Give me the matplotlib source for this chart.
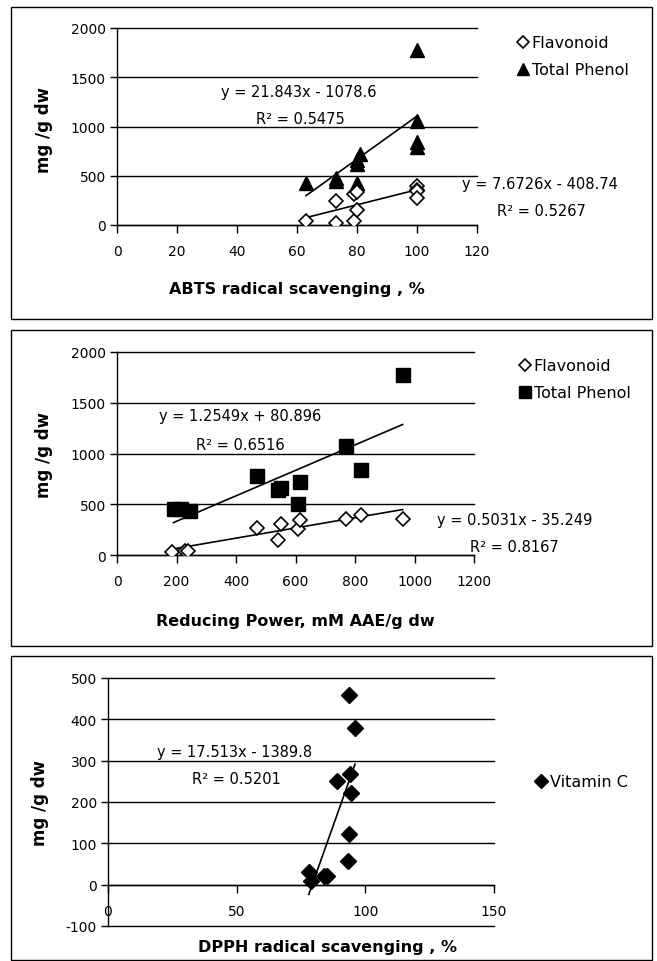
import matplotlib
matplotlib.use('Agg')
import matplotlib.pyplot as plt
from matplotlib.patches import Rectangle
from matplotlib.lines import Line2D
import numpy as np

plt.rcParams['font.family'] = ['DejaVu Sans']
plt.rcParams['axes.unicode_minus'] = False

# ---------------- data ----------------
# Panel 1: ABTS radical scavenging
abts_flav_x = [63, 73, 73, 79, 79, 80, 80, 100, 100, 100, 100]
abts_flav_y = [40, 25, 245, 310, 45, 330, 150, 400, 360, 350, 270]
abts_phen_x = [63, 73, 73, 80, 80, 80, 81, 100, 100, 100, 100]
abts_phen_y = [430, 450, 480, 430, 620, 660, 720, 1780, 1060, 840, 790]
abts_flav_fit = [7.6726, -408.74]
abts_phen_fit = [21.843, -1078.6]
abts_flav_eq = ["y = 7.6726x - 408.74", "R² = 0.5267"]
abts_phen_eq = ["y = 21.843x - 1078.6", "R² = 0.5475"]

# Panel 2: Reducing power
rp_flav_x = [185, 230, 240, 470, 540, 550, 610, 615, 770, 820, 960]
rp_flav_y = [25, 40, 40, 270, 150, 310, 260, 340, 350, 390, 350]
rp_phen_x = [190, 215, 245, 470, 540, 550, 610, 615, 770, 820, 960]
rp_phen_y = [450, 450, 430, 780, 640, 660, 500, 720, 1070, 840, 1770]
rp_flav_fit = [0.5031, -35.249]
rp_phen_fit = [1.2549, 80.896]
rp_flav_eq = ["y = 0.5031x - 35.249", "R² = 0.8167"]
rp_phen_eq = ["y = 1.2549x + 80.896", "R² = 0.6516"]

# Panel 3: DPPH radical scavenging
dpph_x = [78, 79, 84, 85, 89, 93.5, 96, 94, 94.5, 93.5, 93.2]
dpph_y = [30, 8, 22, 22, 252, 458, 378, 268, 222, 122, 58]
dpph_fit = [17.513, -1389.8]
dpph_eq = ["y = 17.513x - 1389.8", "R² = 0.5201"]

W, H = 657, 962
fig = plt.figure(figsize=(W / 100, H / 100), dpi=100)

EQ_FS = 10.5
TICK_FS = 10
LAB_FS = 11.5
YLAB_FS = 12
LEG_FS = 11.5


def fx(px):
    return px / W


def fy(py):
    return 1 - py / H


def box(top, bottom, left=11, right=652):
    fig.patches.append(Rectangle((fx(left), fy(bottom)), fx(right - left), (bottom - top) / H,
                                 transform=fig.transFigure, fill=False, edgecolor='black',
                                 linewidth=1.0))


def make_axes(left, right, top, bottom, xlim, ylim, xticks, yticks):
    ax = fig.add_axes([fx(left), fy(bottom), fx(right - left), (bottom - top) / H])
    ax.set_xlim(*xlim)
    ax.set_ylim(*ylim)
    ax.set_xticks(xticks)
    ax.set_yticks(yticks)
    for s in ['top', 'right']:
        ax.spines[s].set_visible(False)
    ax.spines['bottom'].set_position(('data', 0))
    ax.spines['left'].set_position(('data', 0))
    ax.spines['left'].set_linewidth(1.0)
    ax.spines['bottom'].set_linewidth(1.0)
    for y in yticks:
        ax.axhline(y, color='black', linewidth=1.0, zorder=1, clip_on=False)
    ax.tick_params(axis='x', direction='out', length=6, width=1, pad=8, labelsize=TICK_FS)
    ax.tick_params(axis='y', direction='out', length=5, width=1, pad=3, labelsize=TICK_FS)
    ax.patch.set_alpha(0)
    return ax


def trend(ax, xs, fit):
    xx = np.array([min(xs), max(xs)])
    ax.plot(xx, fit[0] * xx + fit[1], color='black', linewidth=1.2, zorder=2, clip_on=False)


# ---------------- Panel 1 ----------------
box(8, 320)
ax1 = make_axes(117, 477, 29, 226, (0, 120), (0, 2000), range(0, 121, 20), range(0, 2001, 500))
ax1.plot(abts_phen_x, abts_phen_y, linestyle='none', marker='^', markersize=9.5,
         color='black', zorder=3, label='Total Phenol')
ax1.plot(abts_flav_x, abts_flav_y, linestyle='none', marker='D', markersize=7,
         markerfacecolor='white', markeredgecolor='black', markeredgewidth=1.2, zorder=4,
         label='Flavonoid')
trend(ax1, abts_phen_x, abts_phen_fit)
trend(ax1, abts_flav_x, abts_flav_fit)
fig.text(fx(299), fy(92), abts_phen_eq[0], ha='center', va='center', fontsize=EQ_FS)
fig.text(fx(300), fy(119), abts_phen_eq[1], ha='center', va='center', fontsize=EQ_FS)
fig.text(fx(540), fy(184), abts_flav_eq[0], ha='center', va='center', fontsize=EQ_FS)
fig.text(fx(541), fy(212), abts_flav_eq[1], ha='center', va='center', fontsize=EQ_FS)
fig.text(fx(297), fy(290), "ABTS radical scavenging , %", ha='center', va='center',
         fontsize=LAB_FS, fontweight='bold')
fig.text(fx(44), fy(130), "mg /g dw", ha='center', va='center', rotation=90,
         fontsize=YLAB_FS, fontweight='bold')
h1 = [Line2D([], [], linestyle='none', marker='D', markersize=6, markerfacecolor='white',
             markeredgecolor='black', markeredgewidth=1.2),
      Line2D([], [], linestyle='none', marker='^', markersize=8, color='black')]
fig.legend(h1, ['Flavonoid', 'Total Phenol'], loc='upper left',
           bbox_to_anchor=(fx(510), fy(30)), frameon=False, fontsize=LEG_FS,
           handlelength=0.8, handletextpad=0.15, labelspacing=0.75, borderaxespad=0)

# ---------------- Panel 2 ----------------
box(331, 647)
ax2 = make_axes(117, 474, 353, 556, (0, 1200), (0, 2000), range(0, 1201, 200), range(0, 2001, 500))
ax2.plot(rp_phen_x, rp_phen_y, linestyle='none', marker='s', markersize=10.5,
         color='black', zorder=3, label='Total Phenol')
ax2.plot(rp_flav_x, rp_flav_y, linestyle='none', marker='D', markersize=7,
         markerfacecolor='white', markeredgecolor='black', markeredgewidth=1.2, zorder=4,
         label='Flavonoid')
trend(ax2, rp_phen_x, rp_phen_fit)
trend(ax2, rp_flav_x, rp_flav_fit)
fig.text(fx(240), fy(417), rp_phen_eq[0], ha='center', va='center', fontsize=EQ_FS)
fig.text(fx(240), fy(446), rp_phen_eq[1], ha='center', va='center', fontsize=EQ_FS)
fig.text(fx(515), fy(520), rp_flav_eq[0], ha='center', va='center', fontsize=EQ_FS)
fig.text(fx(514), fy(548), rp_flav_eq[1], ha='center', va='center', fontsize=EQ_FS)
fig.text(fx(295), fy(622), "Reducing Power, mM AAE/g dw", ha='center', va='center',
         fontsize=LAB_FS, fontweight='bold')
fig.text(fx(44), fy(455), "mg /g dw", ha='center', va='center', rotation=90,
         fontsize=YLAB_FS, fontweight='bold')
h2 = [Line2D([], [], linestyle='none', marker='D', markersize=6, markerfacecolor='white',
             markeredgecolor='black', markeredgewidth=1.2),
      Line2D([], [], linestyle='none', marker='s', markersize=8, color='black')]
fig.legend(h2, ['Flavonoid', 'Total Phenol'], loc='upper left',
           bbox_to_anchor=(fx(512), fy(353)), frameon=False, fontsize=LEG_FS,
           handlelength=0.8, handletextpad=0.15, labelspacing=0.75, borderaxespad=0)

# ---------------- Panel 3 ----------------
box(657, 961)
ax3 = make_axes(108, 494, 679, 927, (0, 150), (-100, 500), range(0, 151, 50), range(-100, 501, 100))
ax3.plot(dpph_x, dpph_y, linestyle='none', marker='D', markersize=8.5,
         color='black', zorder=3, label='Vitamin C')
trend(ax3, dpph_x, dpph_fit)
fig.text(fx(235), fy(752), dpph_eq[0], ha='center', va='center', fontsize=EQ_FS)
fig.text(fx(236), fy(780), dpph_eq[1], ha='center', va='center', fontsize=EQ_FS)
fig.text(fx(328), fy(948), "DPPH radical scavenging , %", ha='center', va='center',
         fontsize=LAB_FS, fontweight='bold')
fig.text(fx(40), fy(803), "mg /g dw", ha='center', va='center', rotation=90,
         fontsize=YLAB_FS, fontweight='bold')
h3 = [Line2D([], [], linestyle='none', marker='D', markersize=7, color='black')]
fig.legend(h3, ['Vitamin C'], loc='center left',
           bbox_to_anchor=(fx(528), fy(783)), frameon=False, fontsize=LEG_FS,
           handlelength=0.8, handletextpad=0.15, borderaxespad=0)

fig.savefig('out.png', dpi=100)
